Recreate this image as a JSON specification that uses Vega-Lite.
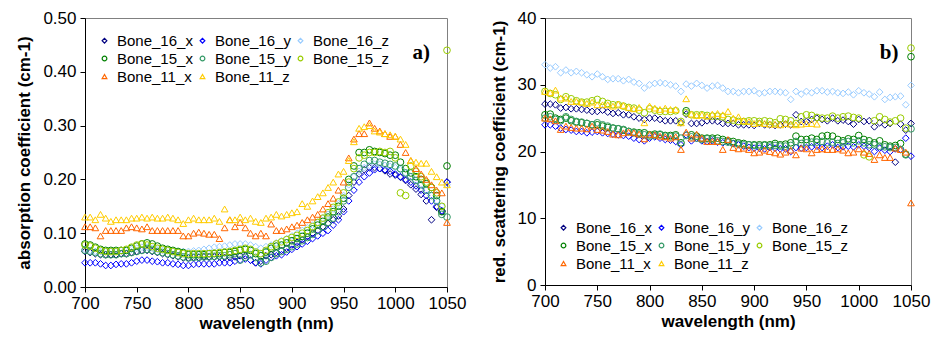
{
"$schema":"https://vega.github.io/schema/vega-lite/v6.json",
"background":"white",
"padding":{"left":15,"top":8,"right":2,"bottom":2},
"config":{
"font":"Liberation Sans",
"view":{"stroke":"#808080","strokeWidth":1},
"axis":{"grid":false,"domainColor":"#000","domainWidth":1,"tickColor":"#000","tickWidth":1,"tickSize":5,"labelFont":"Liberation Sans","labelFontSize":17,"labelColor":"#000","titleFont":"Liberation Sans","titleFontSize":17,"titleFontWeight":"bold","titleColor":"#000","labelFlush":false,"labelOverlap":false},
"axisX":{"labelPadding":3,"titlePadding":4,"format":"d"},
"axisY":{"labelPadding":4,"titlePadding":9},
"legend":{"labelFont":"Liberation Sans","labelFontSize":15,"labelColor":"#000","symbolSize":22,"symbolStrokeWidth":1.2,"columns":3,"direction":"horizontal","columnPadding":2,"rowPadding":2,"labelOffset":5,"title":null,"orient":"none"},
"concat":{"spacing":22}
},
"datasets":{"d":[
{"w":700,"s":"Bone_16_x","a":0.066,"b":27.1},{"w":705,"s":"Bone_16_x","a":0.064,"b":27.1},{"w":710,"s":"Bone_16_x","a":0.062,"b":27.0},{"w":715,"s":"Bone_16_x","a":0.060,"b":26.5},{"w":720,"s":"Bone_16_x","a":0.060,"b":26.6},{"w":725,"s":"Bone_16_x","a":0.060,"b":26.4},{"w":730,"s":"Bone_16_x","a":0.060,"b":26.4},{"w":735,"s":"Bone_16_x","a":0.062,"b":26.3},{"w":740,"s":"Bone_16_x","a":0.062,"b":26.2},{"w":745,"s":"Bone_16_x","a":0.064,"b":26.0},
{"w":750,"s":"Bone_16_x","a":0.066,"b":26.0},{"w":755,"s":"Bone_16_x","a":0.068,"b":26.2},{"w":760,"s":"Bone_16_x","a":0.068,"b":25.9},{"w":765,"s":"Bone_16_x","a":0.066,"b":25.7},{"w":770,"s":"Bone_16_x","a":0.064,"b":25.8},{"w":775,"s":"Bone_16_x","a":0.062,"b":25.5},{"w":780,"s":"Bone_16_x","a":0.060,"b":25.5},{"w":785,"s":"Bone_16_x","a":0.058,"b":25.2},{"w":790,"s":"Bone_16_x","a":0.056,"b":25.0},{"w":795,"s":"Bone_16_x","a":0.054,"b":24.8},
{"w":800,"s":"Bone_16_x","a":0.054,"b":25.0},{"w":805,"s":"Bone_16_x","a":0.055,"b":25.0},{"w":810,"s":"Bone_16_x","a":0.055,"b":24.8},{"w":815,"s":"Bone_16_x","a":0.056,"b":24.6},{"w":820,"s":"Bone_16_x","a":0.056,"b":24.6},{"w":825,"s":"Bone_16_x","a":0.056,"b":24.6},{"w":830,"s":"Bone_16_x","a":0.056,"b":24.3},{"w":835,"s":"Bone_16_x","a":0.055,"b":25.6},{"w":840,"s":"Bone_16_x","a":0.055,"b":24.2},{"w":845,"s":"Bone_16_x","a":0.056,"b":24.2},
{"w":850,"s":"Bone_16_x","a":0.058,"b":24.3},{"w":855,"s":"Bone_16_x","a":0.058,"b":24.6},{"w":860,"s":"Bone_16_x","a":0.050,"b":24.6},{"w":865,"s":"Bone_16_x","a":0.045,"b":24.5},{"w":870,"s":"Bone_16_x","a":0.048,"b":24.2},{"w":875,"s":"Bone_16_x","a":0.058,"b":24.2},{"w":880,"s":"Bone_16_x","a":0.060,"b":24.2},{"w":885,"s":"Bone_16_x","a":0.064,"b":24.0},{"w":890,"s":"Bone_16_x","a":0.068,"b":24.0},{"w":895,"s":"Bone_16_x","a":0.072,"b":24.0},
{"w":900,"s":"Bone_16_x","a":0.078,"b":23.9},{"w":905,"s":"Bone_16_x","a":0.083,"b":24.2},{"w":910,"s":"Bone_16_x","a":0.088,"b":24.0},{"w":915,"s":"Bone_16_x","a":0.094,"b":24.0},{"w":920,"s":"Bone_16_x","a":0.100,"b":23.9},{"w":925,"s":"Bone_16_x","a":0.105,"b":24.0},{"w":930,"s":"Bone_16_x","a":0.112,"b":24.1},{"w":935,"s":"Bone_16_x","a":0.118,"b":24.0},{"w":940,"s":"Bone_16_x","a":0.125,"b":25.5},{"w":945,"s":"Bone_16_x","a":0.132,"b":24.5},
{"w":950,"s":"Bone_16_x","a":0.145,"b":24.5},{"w":955,"s":"Bone_16_x","a":0.170,"b":24.8},{"w":960,"s":"Bone_16_x","a":0.195,"b":25.0},{"w":965,"s":"Bone_16_x","a":0.210,"b":24.8},{"w":970,"s":"Bone_16_x","a":0.218,"b":24.6},{"w":975,"s":"Bone_16_x","a":0.222,"b":25.0},{"w":980,"s":"Bone_16_x","a":0.222,"b":24.6},{"w":985,"s":"Bone_16_x","a":0.220,"b":24.7},{"w":990,"s":"Bone_16_x","a":0.216,"b":24.5},{"w":995,"s":"Bone_16_x","a":0.210,"b":24.1},
{"w":1000,"s":"Bone_16_x","a":0.208,"b":24.8},{"w":1005,"s":"Bone_16_x","a":0.204,"b":24.5},{"w":1010,"s":"Bone_16_x","a":0.198,"b":24.6},{"w":1015,"s":"Bone_16_x","a":0.190,"b":23.7},{"w":1020,"s":"Bone_16_x","a":0.182,"b":24.3},{"w":1025,"s":"Bone_16_x","a":0.172,"b":24.0},{"w":1030,"s":"Bone_16_x","a":0.160,"b":24.2},{"w":1035,"s":"Bone_16_x","a":0.125,"b":18.4},{"w":1040,"s":"Bone_16_x","a":0.148,"b":24.1},{"w":1045,"s":"Bone_16_x","a":0.140,"b":23.2},{"w":1050,"s":"Bone_16_x","a":0.195,"b":24.2},
{"w":700,"s":"Bone_16_y","a":0.045,"b":24.0},{"w":705,"s":"Bone_16_y","a":0.045,"b":24.0},{"w":710,"s":"Bone_16_y","a":0.045,"b":23.8},{"w":715,"s":"Bone_16_y","a":0.043,"b":23.5},{"w":720,"s":"Bone_16_y","a":0.040,"b":23.3},{"w":725,"s":"Bone_16_y","a":0.040,"b":23.2},{"w":730,"s":"Bone_16_y","a":0.042,"b":23.0},{"w":735,"s":"Bone_16_y","a":0.043,"b":23.0},{"w":740,"s":"Bone_16_y","a":0.043,"b":22.8},{"w":745,"s":"Bone_16_y","a":0.045,"b":22.9},
{"w":750,"s":"Bone_16_y","a":0.048,"b":23.0},{"w":755,"s":"Bone_16_y","a":0.050,"b":22.8},{"w":760,"s":"Bone_16_y","a":0.050,"b":22.7},{"w":765,"s":"Bone_16_y","a":0.048,"b":22.6},{"w":770,"s":"Bone_16_y","a":0.047,"b":22.5},{"w":775,"s":"Bone_16_y","a":0.045,"b":22.4},{"w":780,"s":"Bone_16_y","a":0.045,"b":22.3},{"w":785,"s":"Bone_16_y","a":0.043,"b":22.0},{"w":790,"s":"Bone_16_y","a":0.042,"b":21.8},{"w":795,"s":"Bone_16_y","a":0.040,"b":21.6},
{"w":800,"s":"Bone_16_y","a":0.040,"b":22.0},{"w":805,"s":"Bone_16_y","a":0.042,"b":22.2},{"w":810,"s":"Bone_16_y","a":0.043,"b":22.0},{"w":815,"s":"Bone_16_y","a":0.043,"b":21.8},{"w":820,"s":"Bone_16_y","a":0.043,"b":21.7},{"w":825,"s":"Bone_16_y","a":0.043,"b":21.5},{"w":830,"s":"Bone_16_y","a":0.045,"b":21.0},{"w":835,"s":"Bone_16_y","a":0.045,"b":22.5},{"w":840,"s":"Bone_16_y","a":0.045,"b":21.6},{"w":845,"s":"Bone_16_y","a":0.048,"b":22.0},
{"w":850,"s":"Bone_16_y","a":0.050,"b":21.6},{"w":855,"s":"Bone_16_y","a":0.052,"b":21.5},{"w":860,"s":"Bone_16_y","a":0.050,"b":21.6},{"w":865,"s":"Bone_16_y","a":0.045,"b":21.4},{"w":870,"s":"Bone_16_y","a":0.043,"b":21.3},{"w":875,"s":"Bone_16_y","a":0.050,"b":21.5},{"w":880,"s":"Bone_16_y","a":0.055,"b":21.2},{"w":885,"s":"Bone_16_y","a":0.058,"b":21.0},{"w":890,"s":"Bone_16_y","a":0.060,"b":20.8},{"w":895,"s":"Bone_16_y","a":0.065,"b":20.6},
{"w":900,"s":"Bone_16_y","a":0.070,"b":20.5},{"w":905,"s":"Bone_16_y","a":0.075,"b":20.5},{"w":910,"s":"Bone_16_y","a":0.080,"b":20.4},{"w":915,"s":"Bone_16_y","a":0.085,"b":20.6},{"w":920,"s":"Bone_16_y","a":0.090,"b":20.5},{"w":925,"s":"Bone_16_y","a":0.095,"b":20.4},{"w":930,"s":"Bone_16_y","a":0.100,"b":20.4},{"w":935,"s":"Bone_16_y","a":0.105,"b":20.0},{"w":940,"s":"Bone_16_y","a":0.115,"b":20.6},{"w":945,"s":"Bone_16_y","a":0.125,"b":20.5},
{"w":950,"s":"Bone_16_y","a":0.140,"b":20.6},{"w":955,"s":"Bone_16_y","a":0.160,"b":20.7},{"w":960,"s":"Bone_16_y","a":0.180,"b":20.8},{"w":965,"s":"Bone_16_y","a":0.195,"b":20.6},{"w":970,"s":"Bone_16_y","a":0.205,"b":20.8},{"w":975,"s":"Bone_16_y","a":0.212,"b":21.0},{"w":980,"s":"Bone_16_y","a":0.218,"b":20.6},{"w":985,"s":"Bone_16_y","a":0.220,"b":20.7},{"w":990,"s":"Bone_16_y","a":0.218,"b":20.8},{"w":995,"s":"Bone_16_y","a":0.215,"b":20.7},
{"w":1000,"s":"Bone_16_y","a":0.210,"b":21.0},{"w":1005,"s":"Bone_16_y","a":0.205,"b":20.8},{"w":1010,"s":"Bone_16_y","a":0.200,"b":20.6},{"w":1015,"s":"Bone_16_y","a":0.195,"b":20.0},{"w":1020,"s":"Bone_16_y","a":0.188,"b":20.5},{"w":1025,"s":"Bone_16_y","a":0.180,"b":20.2},{"w":1030,"s":"Bone_16_y","a":0.170,"b":20.0},{"w":1035,"s":"Bone_16_y","a":0.160,"b":20.4},{"w":1040,"s":"Bone_16_y","a":0.150,"b":20.3},{"w":1045,"s":"Bone_16_y","a":0.142,"b":22.0},{"w":1050,"s":"Bone_16_y","a":0.195,"b":19.3},
{"w":700,"s":"Bone_16_z","a":0.070,"b":33.0},{"w":705,"s":"Bone_16_z","a":0.068,"b":32.5},{"w":710,"s":"Bone_16_z","a":0.066,"b":32.7},{"w":715,"s":"Bone_16_z","a":0.066,"b":31.8},{"w":720,"s":"Bone_16_z","a":0.066,"b":32.2},{"w":725,"s":"Bone_16_z","a":0.066,"b":31.8},{"w":730,"s":"Bone_16_z","a":0.066,"b":32.0},{"w":735,"s":"Bone_16_z","a":0.068,"b":31.8},{"w":740,"s":"Bone_16_z","a":0.068,"b":31.5},{"w":745,"s":"Bone_16_z","a":0.070,"b":31.2},
{"w":750,"s":"Bone_16_z","a":0.072,"b":31.6},{"w":755,"s":"Bone_16_z","a":0.074,"b":31.2},{"w":760,"s":"Bone_16_z","a":0.074,"b":30.8},{"w":765,"s":"Bone_16_z","a":0.072,"b":30.9},{"w":770,"s":"Bone_16_z","a":0.070,"b":30.9},{"w":775,"s":"Bone_16_z","a":0.068,"b":30.6},{"w":780,"s":"Bone_16_z","a":0.068,"b":30.8},{"w":785,"s":"Bone_16_z","a":0.067,"b":30.4},{"w":790,"s":"Bone_16_z","a":0.066,"b":30.2},{"w":795,"s":"Bone_16_z","a":0.066,"b":29.5},
{"w":800,"s":"Bone_16_z","a":0.066,"b":30.0},{"w":805,"s":"Bone_16_z","a":0.067,"b":30.2},{"w":810,"s":"Bone_16_z","a":0.068,"b":30.3},{"w":815,"s":"Bone_16_z","a":0.070,"b":30.2},{"w":820,"s":"Bone_16_z","a":0.072,"b":30.0},{"w":825,"s":"Bone_16_z","a":0.074,"b":29.8},{"w":830,"s":"Bone_16_z","a":0.075,"b":29.0},{"w":835,"s":"Bone_16_z","a":0.076,"b":30.1},{"w":840,"s":"Bone_16_z","a":0.078,"b":29.8},{"w":845,"s":"Bone_16_z","a":0.080,"b":30.2},
{"w":850,"s":"Bone_16_z","a":0.080,"b":29.9},{"w":855,"s":"Bone_16_z","a":0.080,"b":29.5},{"w":860,"s":"Bone_16_z","a":0.078,"b":29.8},{"w":865,"s":"Bone_16_z","a":0.075,"b":29.9},{"w":870,"s":"Bone_16_z","a":0.072,"b":29.5},{"w":875,"s":"Bone_16_z","a":0.075,"b":29.0},{"w":880,"s":"Bone_16_z","a":0.078,"b":29.0},{"w":885,"s":"Bone_16_z","a":0.082,"b":28.8},{"w":890,"s":"Bone_16_z","a":0.086,"b":29.0},{"w":895,"s":"Bone_16_z","a":0.090,"b":29.0},
{"w":900,"s":"Bone_16_z","a":0.095,"b":29.1},{"w":905,"s":"Bone_16_z","a":0.100,"b":28.7},{"w":910,"s":"Bone_16_z","a":0.105,"b":28.8},{"w":915,"s":"Bone_16_z","a":0.110,"b":29.0},{"w":920,"s":"Bone_16_z","a":0.115,"b":29.0},{"w":925,"s":"Bone_16_z","a":0.120,"b":28.9},{"w":930,"s":"Bone_16_z","a":0.128,"b":28.8},{"w":935,"s":"Bone_16_z","a":0.135,"b":27.8},{"w":940,"s":"Bone_16_z","a":0.145,"b":29.0},{"w":945,"s":"Bone_16_z","a":0.155,"b":28.6},
{"w":950,"s":"Bone_16_z","a":0.170,"b":29.0},{"w":955,"s":"Bone_16_z","a":0.190,"b":28.8},{"w":960,"s":"Bone_16_z","a":0.205,"b":29.1},{"w":965,"s":"Bone_16_z","a":0.215,"b":29.1},{"w":970,"s":"Bone_16_z","a":0.222,"b":28.9},{"w":975,"s":"Bone_16_z","a":0.226,"b":29.0},{"w":980,"s":"Bone_16_z","a":0.228,"b":28.8},{"w":985,"s":"Bone_16_z","a":0.228,"b":28.7},{"w":990,"s":"Bone_16_z","a":0.226,"b":28.9},{"w":995,"s":"Bone_16_z","a":0.224,"b":28.5},
{"w":1000,"s":"Bone_16_z","a":0.222,"b":29.1},{"w":1005,"s":"Bone_16_z","a":0.218,"b":28.8},{"w":1010,"s":"Bone_16_z","a":0.212,"b":28.6},{"w":1015,"s":"Bone_16_z","a":0.205,"b":28.2},{"w":1020,"s":"Bone_16_z","a":0.198,"b":28.9},{"w":1025,"s":"Bone_16_z","a":0.190,"b":27.8},{"w":1030,"s":"Bone_16_z","a":0.180,"b":28.1},{"w":1035,"s":"Bone_16_z","a":0.170,"b":28.2},{"w":1040,"s":"Bone_16_z","a":0.160,"b":28.3},{"w":1045,"s":"Bone_16_z","a":0.150,"b":27.0},{"w":1050,"s":"Bone_16_z","a":0.190,"b":29.9},
{"w":700,"s":"Bone_15_x","a":0.080,"b":25.5},{"w":705,"s":"Bone_15_x","a":0.078,"b":25.6},{"w":710,"s":"Bone_15_x","a":0.074,"b":25.0},{"w":715,"s":"Bone_15_x","a":0.070,"b":24.8},{"w":720,"s":"Bone_15_x","a":0.068,"b":25.0},{"w":725,"s":"Bone_15_x","a":0.068,"b":24.6},{"w":730,"s":"Bone_15_x","a":0.068,"b":24.4},{"w":735,"s":"Bone_15_x","a":0.068,"b":24.3},{"w":740,"s":"Bone_15_x","a":0.068,"b":24.2},{"w":745,"s":"Bone_15_x","a":0.072,"b":24.0},
{"w":750,"s":"Bone_15_x","a":0.076,"b":24.0},{"w":755,"s":"Bone_15_x","a":0.080,"b":23.8},{"w":760,"s":"Bone_15_x","a":0.082,"b":23.6},{"w":765,"s":"Bone_15_x","a":0.080,"b":23.5},{"w":770,"s":"Bone_15_x","a":0.076,"b":23.4},{"w":775,"s":"Bone_15_x","a":0.072,"b":23.2},{"w":780,"s":"Bone_15_x","a":0.070,"b":23.0},{"w":785,"s":"Bone_15_x","a":0.068,"b":22.9},{"w":790,"s":"Bone_15_x","a":0.066,"b":22.8},{"w":795,"s":"Bone_15_x","a":0.064,"b":22.8},
{"w":800,"s":"Bone_15_x","a":0.060,"b":22.5},{"w":805,"s":"Bone_15_x","a":0.060,"b":22.6},{"w":810,"s":"Bone_15_x","a":0.060,"b":22.5},{"w":815,"s":"Bone_15_x","a":0.060,"b":22.4},{"w":820,"s":"Bone_15_x","a":0.062,"b":22.4},{"w":825,"s":"Bone_15_x","a":0.062,"b":22.5},{"w":830,"s":"Bone_15_x","a":0.062,"b":21.3},{"w":835,"s":"Bone_15_x","a":0.064,"b":26.1},{"w":840,"s":"Bone_15_x","a":0.064,"b":22.5},{"w":845,"s":"Bone_15_x","a":0.066,"b":22.3},
{"w":850,"s":"Bone_15_x","a":0.068,"b":22.0},{"w":855,"s":"Bone_15_x","a":0.070,"b":22.0},{"w":860,"s":"Bone_15_x","a":0.068,"b":22.0},{"w":865,"s":"Bone_15_x","a":0.062,"b":22.0},{"w":870,"s":"Bone_15_x","a":0.058,"b":21.8},{"w":875,"s":"Bone_15_x","a":0.065,"b":21.6},{"w":880,"s":"Bone_15_x","a":0.072,"b":21.5},{"w":885,"s":"Bone_15_x","a":0.076,"b":21.3},{"w":890,"s":"Bone_15_x","a":0.078,"b":21.2},{"w":895,"s":"Bone_15_x","a":0.082,"b":21.0},
{"w":900,"s":"Bone_15_x","a":0.086,"b":21.0},{"w":905,"s":"Bone_15_x","a":0.090,"b":21.0},{"w":910,"s":"Bone_15_x","a":0.094,"b":21.0},{"w":915,"s":"Bone_15_x","a":0.100,"b":21.0},{"w":920,"s":"Bone_15_x","a":0.108,"b":21.2},{"w":925,"s":"Bone_15_x","a":0.115,"b":21.0},{"w":930,"s":"Bone_15_x","a":0.122,"b":21.1},{"w":935,"s":"Bone_15_x","a":0.130,"b":21.3},{"w":940,"s":"Bone_15_x","a":0.140,"b":22.3},{"w":945,"s":"Bone_15_x","a":0.150,"b":21.8},
{"w":950,"s":"Bone_15_x","a":0.165,"b":21.8},{"w":955,"s":"Bone_15_x","a":0.200,"b":22.0},{"w":960,"s":"Bone_15_x","a":0.225,"b":21.8},{"w":965,"s":"Bone_15_x","a":0.250,"b":22.3},{"w":970,"s":"Bone_15_x","a":0.250,"b":22.4},{"w":975,"s":"Bone_15_x","a":0.255,"b":22.3},{"w":980,"s":"Bone_15_x","a":0.252,"b":21.8},{"w":985,"s":"Bone_15_x","a":0.250,"b":21.6},{"w":990,"s":"Bone_15_x","a":0.248,"b":21.9},{"w":995,"s":"Bone_15_x","a":0.245,"b":21.8},
{"w":1000,"s":"Bone_15_x","a":0.245,"b":22.4},{"w":1005,"s":"Bone_15_x","a":0.232,"b":21.8},{"w":1010,"s":"Bone_15_x","a":0.220,"b":21.6},{"w":1015,"s":"Bone_15_x","a":0.212,"b":21.3},{"w":1020,"s":"Bone_15_x","a":0.205,"b":21.6},{"w":1025,"s":"Bone_15_x","a":0.200,"b":21.0},{"w":1030,"s":"Bone_15_x","a":0.192,"b":20.8},{"w":1035,"s":"Bone_15_x","a":0.185,"b":20.9},{"w":1040,"s":"Bone_15_x","a":0.170,"b":21.2},{"w":1045,"s":"Bone_15_x","a":0.140,"b":19.6},{"w":1050,"s":"Bone_15_x","a":0.225,"b":34.2},
{"w":700,"s":"Bone_15_y","a":0.068,"b":25.0},{"w":705,"s":"Bone_15_y","a":0.066,"b":25.2},{"w":710,"s":"Bone_15_y","a":0.064,"b":24.8},{"w":715,"s":"Bone_15_y","a":0.062,"b":24.6},{"w":720,"s":"Bone_15_y","a":0.060,"b":25.2},{"w":725,"s":"Bone_15_y","a":0.060,"b":24.8},{"w":730,"s":"Bone_15_y","a":0.060,"b":24.5},{"w":735,"s":"Bone_15_y","a":0.062,"b":24.4},{"w":740,"s":"Bone_15_y","a":0.062,"b":24.2},{"w":745,"s":"Bone_15_y","a":0.064,"b":24.0},
{"w":750,"s":"Bone_15_y","a":0.066,"b":24.3},{"w":755,"s":"Bone_15_y","a":0.068,"b":24.0},{"w":760,"s":"Bone_15_y","a":0.070,"b":23.8},{"w":765,"s":"Bone_15_y","a":0.068,"b":23.5},{"w":770,"s":"Bone_15_y","a":0.066,"b":23.4},{"w":775,"s":"Bone_15_y","a":0.064,"b":23.3},{"w":780,"s":"Bone_15_y","a":0.062,"b":23.0},{"w":785,"s":"Bone_15_y","a":0.060,"b":22.8},{"w":790,"s":"Bone_15_y","a":0.058,"b":22.6},{"w":795,"s":"Bone_15_y","a":0.056,"b":22.5},
{"w":800,"s":"Bone_15_y","a":0.054,"b":22.3},{"w":805,"s":"Bone_15_y","a":0.055,"b":22.4},{"w":810,"s":"Bone_15_y","a":0.055,"b":22.6},{"w":815,"s":"Bone_15_y","a":0.056,"b":22.3},{"w":820,"s":"Bone_15_y","a":0.056,"b":22.2},{"w":825,"s":"Bone_15_y","a":0.057,"b":22.3},{"w":830,"s":"Bone_15_y","a":0.058,"b":22.0},{"w":835,"s":"Bone_15_y","a":0.058,"b":22.4},{"w":840,"s":"Bone_15_y","a":0.060,"b":22.2},{"w":845,"s":"Bone_15_y","a":0.062,"b":22.0},
{"w":850,"s":"Bone_15_y","a":0.050,"b":21.8},{"w":855,"s":"Bone_15_y","a":0.055,"b":21.9},{"w":860,"s":"Bone_15_y","a":0.060,"b":21.8},{"w":865,"s":"Bone_15_y","a":0.055,"b":21.6},{"w":870,"s":"Bone_15_y","a":0.045,"b":21.5},{"w":875,"s":"Bone_15_y","a":0.048,"b":21.4},{"w":880,"s":"Bone_15_y","a":0.055,"b":21.2},{"w":885,"s":"Bone_15_y","a":0.062,"b":21.1},{"w":890,"s":"Bone_15_y","a":0.066,"b":21.0},{"w":895,"s":"Bone_15_y","a":0.070,"b":21.0},
{"w":900,"s":"Bone_15_y","a":0.075,"b":20.9},{"w":905,"s":"Bone_15_y","a":0.080,"b":20.8},{"w":910,"s":"Bone_15_y","a":0.086,"b":20.9},{"w":915,"s":"Bone_15_y","a":0.092,"b":20.8},{"w":920,"s":"Bone_15_y","a":0.098,"b":20.9},{"w":925,"s":"Bone_15_y","a":0.105,"b":20.8},{"w":930,"s":"Bone_15_y","a":0.112,"b":20.8},{"w":935,"s":"Bone_15_y","a":0.120,"b":20.9},{"w":940,"s":"Bone_15_y","a":0.128,"b":21.5},{"w":945,"s":"Bone_15_y","a":0.140,"b":21.2},
{"w":950,"s":"Bone_15_y","a":0.160,"b":21.3},{"w":955,"s":"Bone_15_y","a":0.185,"b":21.4},{"w":960,"s":"Bone_15_y","a":0.205,"b":21.4},{"w":965,"s":"Bone_15_y","a":0.220,"b":21.5},{"w":970,"s":"Bone_15_y","a":0.228,"b":21.3},{"w":975,"s":"Bone_15_y","a":0.235,"b":21.4},{"w":980,"s":"Bone_15_y","a":0.235,"b":21.2},{"w":985,"s":"Bone_15_y","a":0.232,"b":21.3},{"w":990,"s":"Bone_15_y","a":0.230,"b":21.5},{"w":995,"s":"Bone_15_y","a":0.228,"b":21.3},
{"w":1000,"s":"Bone_15_y","a":0.225,"b":21.6},{"w":1005,"s":"Bone_15_y","a":0.220,"b":21.3},{"w":1010,"s":"Bone_15_y","a":0.212,"b":21.0},{"w":1015,"s":"Bone_15_y","a":0.205,"b":21.0},{"w":1020,"s":"Bone_15_y","a":0.198,"b":20.8},{"w":1025,"s":"Bone_15_y","a":0.190,"b":20.7},{"w":1030,"s":"Bone_15_y","a":0.180,"b":20.6},{"w":1035,"s":"Bone_15_y","a":0.170,"b":20.6},{"w":1040,"s":"Bone_15_y","a":0.160,"b":20.3},{"w":1045,"s":"Bone_15_y","a":0.135,"b":19.5},{"w":1050,"s":"Bone_15_y","a":0.130,"b":23.4},
{"w":700,"s":"Bone_15_z","a":0.078,"b":29.0},{"w":705,"s":"Bone_15_z","a":0.076,"b":28.7},{"w":710,"s":"Bone_15_z","a":0.072,"b":28.5},{"w":715,"s":"Bone_15_z","a":0.068,"b":27.8},{"w":720,"s":"Bone_15_z","a":0.066,"b":28.2},{"w":725,"s":"Bone_15_z","a":0.066,"b":27.9},{"w":730,"s":"Bone_15_z","a":0.066,"b":27.6},{"w":735,"s":"Bone_15_z","a":0.068,"b":27.4},{"w":740,"s":"Bone_15_z","a":0.070,"b":27.4},{"w":745,"s":"Bone_15_z","a":0.074,"b":27.6},
{"w":750,"s":"Bone_15_z","a":0.078,"b":27.8},{"w":755,"s":"Bone_15_z","a":0.080,"b":27.5},{"w":760,"s":"Bone_15_z","a":0.078,"b":27.2},{"w":765,"s":"Bone_15_z","a":0.075,"b":27.0},{"w":770,"s":"Bone_15_z","a":0.072,"b":27.0},{"w":775,"s":"Bone_15_z","a":0.070,"b":26.8},{"w":780,"s":"Bone_15_z","a":0.068,"b":26.6},{"w":785,"s":"Bone_15_z","a":0.066,"b":26.5},{"w":790,"s":"Bone_15_z","a":0.064,"b":26.2},{"w":795,"s":"Bone_15_z","a":0.062,"b":25.8},
{"w":800,"s":"Bone_15_z","a":0.062,"b":26.4},{"w":805,"s":"Bone_15_z","a":0.062,"b":26.2},{"w":810,"s":"Bone_15_z","a":0.062,"b":26.0},{"w":815,"s":"Bone_15_z","a":0.062,"b":26.0},{"w":820,"s":"Bone_15_z","a":0.062,"b":26.0},{"w":825,"s":"Bone_15_z","a":0.063,"b":26.1},{"w":830,"s":"Bone_15_z","a":0.064,"b":24.5},{"w":835,"s":"Bone_15_z","a":0.065,"b":25.8},{"w":840,"s":"Bone_15_z","a":0.066,"b":25.5},{"w":845,"s":"Bone_15_z","a":0.068,"b":25.5},
{"w":850,"s":"Bone_15_z","a":0.070,"b":25.5},{"w":855,"s":"Bone_15_z","a":0.072,"b":25.4},{"w":860,"s":"Bone_15_z","a":0.070,"b":25.3},{"w":865,"s":"Bone_15_z","a":0.065,"b":25.3},{"w":870,"s":"Bone_15_z","a":0.062,"b":25.2},{"w":875,"s":"Bone_15_z","a":0.068,"b":24.8},{"w":880,"s":"Bone_15_z","a":0.075,"b":24.7},{"w":885,"s":"Bone_15_z","a":0.080,"b":24.5},{"w":890,"s":"Bone_15_z","a":0.084,"b":24.5},{"w":895,"s":"Bone_15_z","a":0.088,"b":24.6},
{"w":900,"s":"Bone_15_z","a":0.092,"b":24.6},{"w":905,"s":"Bone_15_z","a":0.096,"b":24.5},{"w":910,"s":"Bone_15_z","a":0.100,"b":24.6},{"w":915,"s":"Bone_15_z","a":0.105,"b":24.5},{"w":920,"s":"Bone_15_z","a":0.112,"b":24.3},{"w":925,"s":"Bone_15_z","a":0.120,"b":24.9},{"w":930,"s":"Bone_15_z","a":0.128,"b":24.8},{"w":935,"s":"Bone_15_z","a":0.138,"b":24.6},{"w":940,"s":"Bone_15_z","a":0.148,"b":24.2},{"w":945,"s":"Bone_15_z","a":0.158,"b":25.2},
{"w":950,"s":"Bone_15_z","a":0.175,"b":25.5},{"w":955,"s":"Bone_15_z","a":0.195,"b":25.4},{"w":960,"s":"Bone_15_z","a":0.220,"b":25.1},{"w":965,"s":"Bone_15_z","a":0.240,"b":25.0},{"w":970,"s":"Bone_15_z","a":0.245,"b":25.0},{"w":975,"s":"Bone_15_z","a":0.250,"b":25.3},{"w":980,"s":"Bone_15_z","a":0.250,"b":25.0},{"w":985,"s":"Bone_15_z","a":0.252,"b":25.2},{"w":990,"s":"Bone_15_z","a":0.250,"b":25.3},{"w":995,"s":"Bone_15_z","a":0.252,"b":25.1},
{"w":1000,"s":"Bone_15_z","a":0.240,"b":25.0},{"w":1005,"s":"Bone_15_z","a":0.175,"b":19.5},{"w":1010,"s":"Bone_15_z","a":0.170,"b":19.2},{"w":1015,"s":"Bone_15_z","a":0.225,"b":24.6},{"w":1020,"s":"Bone_15_z","a":0.215,"b":25.2},{"w":1025,"s":"Bone_15_z","a":0.205,"b":24.8},{"w":1030,"s":"Bone_15_z","a":0.195,"b":24.4},{"w":1035,"s":"Bone_15_z","a":0.185,"b":24.6},{"w":1040,"s":"Bone_15_z","a":0.175,"b":25.0},{"w":1045,"s":"Bone_15_z","a":0.150,"b":23.5},{"w":1050,"s":"Bone_15_z","a":0.440,"b":35.5},
{"w":700,"s":"Bone_11_x","a":0.112,"b":25.0},{"w":705,"s":"Bone_11_x","a":0.112,"b":24.9},{"w":710,"s":"Bone_11_x","a":0.110,"b":24.6},{"w":715,"s":"Bone_11_x","a":0.095,"b":23.3},{"w":720,"s":"Bone_11_x","a":0.105,"b":23.8},{"w":725,"s":"Bone_11_x","a":0.105,"b":23.6},{"w":730,"s":"Bone_11_x","a":0.105,"b":23.5},{"w":735,"s":"Bone_11_x","a":0.105,"b":23.5},{"w":740,"s":"Bone_11_x","a":0.110,"b":23.4},{"w":745,"s":"Bone_11_x","a":0.112,"b":23.8},
{"w":750,"s":"Bone_11_x","a":0.110,"b":23.3},{"w":755,"s":"Bone_11_x","a":0.108,"b":23.2},{"w":760,"s":"Bone_11_x","a":0.112,"b":23.0},{"w":765,"s":"Bone_11_x","a":0.105,"b":22.6},{"w":770,"s":"Bone_11_x","a":0.105,"b":22.5},{"w":775,"s":"Bone_11_x","a":0.105,"b":22.8},{"w":780,"s":"Bone_11_x","a":0.105,"b":22.9},{"w":785,"s":"Bone_11_x","a":0.105,"b":22.8},{"w":790,"s":"Bone_11_x","a":0.105,"b":22.6},{"w":795,"s":"Bone_11_x","a":0.095,"b":21.9},
{"w":800,"s":"Bone_11_x","a":0.095,"b":22.6},{"w":805,"s":"Bone_11_x","a":0.100,"b":22.5},{"w":810,"s":"Bone_11_x","a":0.102,"b":22.3},{"w":815,"s":"Bone_11_x","a":0.100,"b":22.2},{"w":820,"s":"Bone_11_x","a":0.098,"b":22.0},{"w":825,"s":"Bone_11_x","a":0.098,"b":22.2},{"w":830,"s":"Bone_11_x","a":0.090,"b":20.3},{"w":835,"s":"Bone_11_x","a":0.110,"b":22.9},{"w":840,"s":"Bone_11_x","a":0.125,"b":22.0},{"w":845,"s":"Bone_11_x","a":0.112,"b":22.6},
{"w":850,"s":"Bone_11_x","a":0.120,"b":22.0},{"w":855,"s":"Bone_11_x","a":0.110,"b":21.5},{"w":860,"s":"Bone_11_x","a":0.100,"b":21.5},{"w":865,"s":"Bone_11_x","a":0.095,"b":21.5},{"w":870,"s":"Bone_11_x","a":0.100,"b":20.3},{"w":875,"s":"Bone_11_x","a":0.095,"b":21.8},{"w":880,"s":"Bone_11_x","a":0.117,"b":20.6},{"w":885,"s":"Bone_11_x","a":0.105,"b":20.4},{"w":890,"s":"Bone_11_x","a":0.105,"b":20.5},{"w":895,"s":"Bone_11_x","a":0.108,"b":20.3},
{"w":900,"s":"Bone_11_x","a":0.112,"b":19.8},{"w":905,"s":"Bone_11_x","a":0.115,"b":19.9},{"w":910,"s":"Bone_11_x","a":0.120,"b":20.2},{"w":915,"s":"Bone_11_x","a":0.125,"b":20.0},{"w":920,"s":"Bone_11_x","a":0.130,"b":19.8},{"w":925,"s":"Bone_11_x","a":0.135,"b":19.6},{"w":930,"s":"Bone_11_x","a":0.145,"b":19.9},{"w":935,"s":"Bone_11_x","a":0.155,"b":20.2},{"w":940,"s":"Bone_11_x","a":0.165,"b":19.5},{"w":945,"s":"Bone_11_x","a":0.180,"b":20.5},
{"w":950,"s":"Bone_11_x","a":0.195,"b":20.4},{"w":955,"s":"Bone_11_x","a":0.240,"b":19.8},{"w":960,"s":"Bone_11_x","a":0.275,"b":20.3},{"w":965,"s":"Bone_11_x","a":0.285,"b":20.4},{"w":970,"s":"Bone_11_x","a":0.285,"b":20.3},{"w":975,"s":"Bone_11_x","a":0.305,"b":20.3},{"w":980,"s":"Bone_11_x","a":0.295,"b":20.4},{"w":985,"s":"Bone_11_x","a":0.290,"b":20.2},{"w":990,"s":"Bone_11_x","a":0.285,"b":19.8},{"w":995,"s":"Bone_11_x","a":0.280,"b":19.9},
{"w":1000,"s":"Bone_11_x","a":0.280,"b":20.4},{"w":1005,"s":"Bone_11_x","a":0.265,"b":19.9},{"w":1010,"s":"Bone_11_x","a":0.250,"b":19.7},{"w":1015,"s":"Bone_11_x","a":0.235,"b":18.8},{"w":1020,"s":"Bone_11_x","a":0.220,"b":19.5},{"w":1025,"s":"Bone_11_x","a":0.210,"b":19.1},{"w":1030,"s":"Bone_11_x","a":0.200,"b":19.1},{"w":1035,"s":"Bone_11_x","a":0.190,"b":20.5},{"w":1040,"s":"Bone_11_x","a":0.180,"b":20.3},{"w":1045,"s":"Bone_11_x","a":0.175,"b":19.9},{"w":1050,"s":"Bone_11_x","a":0.120,"b":12.3},
{"w":700,"s":"Bone_11_z","a":0.130,"b":29.0},{"w":705,"s":"Bone_11_z","a":0.130,"b":28.8},{"w":710,"s":"Bone_11_z","a":0.125,"b":29.2},{"w":715,"s":"Bone_11_z","a":0.135,"b":28.0},{"w":720,"s":"Bone_11_z","a":0.128,"b":28.0},{"w":725,"s":"Bone_11_z","a":0.122,"b":27.5},{"w":730,"s":"Bone_11_z","a":0.125,"b":27.5},{"w":735,"s":"Bone_11_z","a":0.125,"b":27.4},{"w":740,"s":"Bone_11_z","a":0.125,"b":27.2},{"w":745,"s":"Bone_11_z","a":0.128,"b":27.4},
{"w":750,"s":"Bone_11_z","a":0.128,"b":27.0},{"w":755,"s":"Bone_11_z","a":0.130,"b":27.0},{"w":760,"s":"Bone_11_z","a":0.128,"b":27.0},{"w":765,"s":"Bone_11_z","a":0.130,"b":26.8},{"w":770,"s":"Bone_11_z","a":0.128,"b":27.1},{"w":775,"s":"Bone_11_z","a":0.128,"b":26.9},{"w":780,"s":"Bone_11_z","a":0.130,"b":26.6},{"w":785,"s":"Bone_11_z","a":0.128,"b":26.4},{"w":790,"s":"Bone_11_z","a":0.125,"b":26.6},{"w":795,"s":"Bone_11_z","a":0.118,"b":24.3},
{"w":800,"s":"Bone_11_z","a":0.125,"b":26.8},{"w":805,"s":"Bone_11_z","a":0.128,"b":26.5},{"w":810,"s":"Bone_11_z","a":0.125,"b":26.3},{"w":815,"s":"Bone_11_z","a":0.125,"b":26.5},{"w":820,"s":"Bone_11_z","a":0.125,"b":26.3},{"w":825,"s":"Bone_11_z","a":0.128,"b":26.3},{"w":830,"s":"Bone_11_z","a":0.122,"b":24.3},{"w":835,"s":"Bone_11_z","a":0.145,"b":27.9},{"w":840,"s":"Bone_11_z","a":0.125,"b":25.6},{"w":845,"s":"Bone_11_z","a":0.125,"b":25.4},
{"w":850,"s":"Bone_11_z","a":0.130,"b":25.5},{"w":855,"s":"Bone_11_z","a":0.125,"b":25.3},{"w":860,"s":"Bone_11_z","a":0.128,"b":25.6},{"w":865,"s":"Bone_11_z","a":0.122,"b":25.7},{"w":870,"s":"Bone_11_z","a":0.120,"b":25.5},{"w":875,"s":"Bone_11_z","a":0.128,"b":26.0},{"w":880,"s":"Bone_11_z","a":0.130,"b":25.0},{"w":885,"s":"Bone_11_z","a":0.135,"b":25.2},{"w":890,"s":"Bone_11_z","a":0.132,"b":24.6},{"w":895,"s":"Bone_11_z","a":0.135,"b":24.5},
{"w":900,"s":"Bone_11_z","a":0.138,"b":24.2},{"w":905,"s":"Bone_11_z","a":0.140,"b":24.3},{"w":910,"s":"Bone_11_z","a":0.155,"b":24.2},{"w":915,"s":"Bone_11_z","a":0.150,"b":24.1},{"w":920,"s":"Bone_11_z","a":0.160,"b":24.1},{"w":925,"s":"Bone_11_z","a":0.168,"b":24.0},{"w":930,"s":"Bone_11_z","a":0.175,"b":24.2},{"w":935,"s":"Bone_11_z","a":0.185,"b":24.1},{"w":940,"s":"Bone_11_z","a":0.195,"b":24.0},{"w":945,"s":"Bone_11_z","a":0.210,"b":24.1},
{"w":950,"s":"Bone_11_z","a":0.215,"b":24.2},{"w":955,"s":"Bone_11_z","a":0.235,"b":24.2},{"w":960,"s":"Bone_11_z","a":0.270,"b":24.1},{"w":965,"s":"Bone_11_z","a":0.295,"b":null},{"w":970,"s":"Bone_11_z","a":0.298,"b":null},{"w":975,"s":"Bone_11_z","a":0.300,"b":null},{"w":980,"s":"Bone_11_z","a":0.290,"b":null},{"w":985,"s":"Bone_11_z","a":0.288,"b":null},{"w":990,"s":"Bone_11_z","a":0.285,"b":null},{"w":995,"s":"Bone_11_z","a":0.283,"b":null},
{"w":1000,"s":"Bone_11_z","a":0.280,"b":null},{"w":1005,"s":"Bone_11_z","a":0.275,"b":null},{"w":1010,"s":"Bone_11_z","a":0.265,"b":null},{"w":1015,"s":"Bone_11_z","a":0.235,"b":null},{"w":1020,"s":"Bone_11_z","a":0.232,"b":null},{"w":1025,"s":"Bone_11_z","a":0.230,"b":null},{"w":1030,"s":"Bone_11_z","a":0.230,"b":null},{"w":1035,"s":"Bone_11_z","a":0.215,"b":null},{"w":1040,"s":"Bone_11_z","a":0.205,"b":null},{"w":1045,"s":"Bone_11_z","a":0.195,"b":null},{"w":1050,"s":"Bone_11_z","a":0.190,"b":null}
]},
"hconcat":[
{"width":362,"height":269,
"layer":[
{"data":{"name":"d"},
"mark":{"type":"point","filled":false,"size":45,"strokeWidth":1,"opacity":1},
"encoding":{
"x":{"field":"w","type":"quantitative","scale":{"domain":[700,1050],"nice":false,"zero":false},"axis":{"values":[700,750,800,850,900,950,1000,1050],"title":"wavelength (nm)"}},
"y":{"field":"a","type":"quantitative","scale":{"domain":[0,0.5],"nice":false},"axis":{"values":[0,0.1,0.2,0.3,0.4,0.5],"format":".2f","title":"absorption coefficient (cm-1)"}},
"color":{"field":"s","type":"nominal","scale":{"domain":["Bone_16_x","Bone_16_y","Bone_16_z","Bone_15_x","Bone_15_y","Bone_15_z","Bone_11_x","Bone_11_z"],"range":["#000080","#0000FF","#99CCFF","#008000","#339966","#99CC00","#FF6600","#FFCC00"]},"legend":{"legendX":12,"legendY":15}},
"shape":{"field":"s","type":"nominal","scale":{"domain":["Bone_16_x","Bone_16_y","Bone_16_z","Bone_15_x","Bone_15_y","Bone_15_z","Bone_11_x","Bone_11_z"],"range":["diamond","diamond","diamond","circle","circle","circle","triangle-up","triangle-up"]},"legend":{"legendX":12,"legendY":15}}
}},
{"data":{"values":[{"t":"a)","x":1025,"y":0.435}]},
"mark":{"type":"text","font":"Liberation Serif","fontSize":21,"fontWeight":"bold","color":"#000"},
"encoding":{"x":{"field":"x","type":"quantitative"},"y":{"field":"y","type":"quantitative"},"text":{"field":"t"}}}
]},
{"width":366,"height":267,
"layer":[
{"data":{"name":"d"},
"mark":{"type":"point","filled":false,"size":45,"strokeWidth":1,"opacity":1},
"encoding":{
"x":{"field":"w","type":"quantitative","scale":{"domain":[700,1050],"nice":false,"zero":false},"axis":{"values":[700,750,800,850,900,950,1000,1050],"title":"wavelength (nm)"}},
"y":{"field":"b","type":"quantitative","scale":{"domain":[0,40],"nice":false},"axis":{"values":[0,5,10,15,20,25,30,35,40],"title":"red. scattering coefficient (cm-1)"}},
"color":{"field":"s","type":"nominal","scale":{"domain":["Bone_16_x","Bone_16_y","Bone_16_z","Bone_15_x","Bone_15_y","Bone_15_z","Bone_11_x","Bone_11_z"],"range":["#000080","#0000FF","#99CCFF","#008000","#339966","#99CC00","#FF6600","#FFCC00"]},"legend":{"legendX":11,"legendY":202}},
"shape":{"field":"s","type":"nominal","scale":{"domain":["Bone_16_x","Bone_16_y","Bone_16_z","Bone_15_x","Bone_15_y","Bone_15_z","Bone_11_x","Bone_11_z"],"range":["diamond","diamond","diamond","circle","circle","circle","triangle-up","triangle-up"]},"legend":{"legendX":11,"legendY":202}}
}},
{"data":{"values":[{"t":"b)","x":1029,"y":34.75}]},
"mark":{"type":"text","font":"Liberation Serif","fontSize":21,"fontWeight":"bold","color":"#000"},
"encoding":{"x":{"field":"x","type":"quantitative"},"y":{"field":"y","type":"quantitative"},"text":{"field":"t"}}}
]}
],
"resolve":{"scale":{"color":"independent","shape":"independent"},"legend":{"color":"independent","shape":"independent"}}
}
